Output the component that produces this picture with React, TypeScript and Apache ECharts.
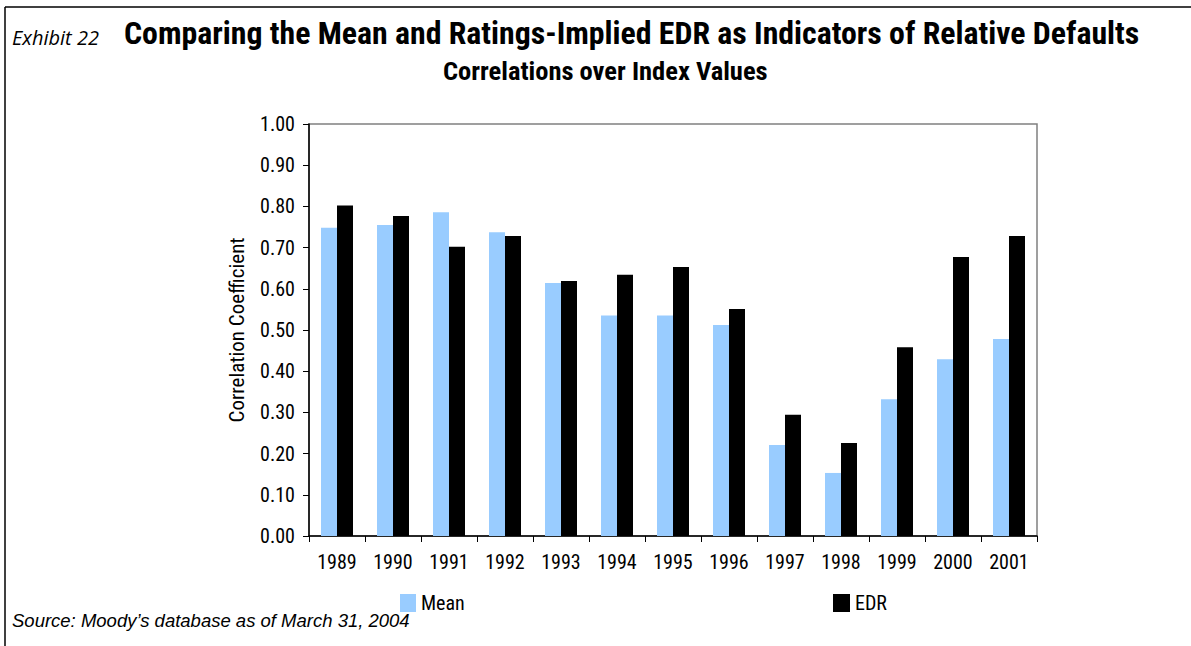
import React, { useEffect, useRef } from "react";
import * as echarts from "echarts";

const years = ["1989", "1990", "1991", "1992", "1993", "1994", "1995", "1996", "1997", "1998", "1999", "2000", "2001"];
const meanValues = [0.748, 0.755, 0.786, 0.737, 0.614, 0.535, 0.535, 0.512, 0.221, 0.153, 0.332, 0.429, 0.478];
const edrValues = [0.802, 0.777, 0.702, 0.728, 0.619, 0.634, 0.653, 0.551, 0.294, 0.226, 0.458, 0.677, 0.728];
const yTicks = [0, 0.1, 0.2, 0.3, 0.4, 0.5, 0.6, 0.7, 0.8, 0.9, 1.0];

const NARROW = '"Liberation Sans Narrow", "Roboto Condensed", "Arial Narrow", "Liberation Sans", sans-serif';

export default function App() {
  const ref = useRef<HTMLDivElement>(null);
  useEffect(() => {
    if (!ref.current) return;
    const chart = echarts.init(ref.current, null, { renderer: "svg" });
    chart.setOption({
      animation: false,
      backgroundColor: "#ffffff",
      grid: { left: 309, top: 124, right: 154, bottom: 110, show: true, borderColor: "#808080", borderWidth: 1.5, backgroundColor: "transparent" },
      legend: [
        {
          data: ["Mean"], left: 400, top: 593, padding: 0, itemWidth: 16, itemHeight: 18, itemGap: 0,
          textStyle: { fontFamily: NARROW, fontSize: 20, color: "#000" },
          icon: "rect",
        },
        {
          data: ["EDR"], left: 833, top: 593, padding: 0, itemWidth: 17, itemHeight: 18, itemGap: 0,
          textStyle: { fontFamily: NARROW, fontSize: 20, color: "#000" },
          icon: "rect",
        },
      ],
      xAxis: {
        type: "category",
        data: years,
        axisLine: { lineStyle: { color: "#000", width: 1.5 } },
        axisTick: { show: true, length: 6, alignWithLabel: false, lineStyle: { color: "#000" } },
        axisLabel: { fontFamily: NARROW, fontSize: 20, color: "#000", margin: 16 },
      },
      yAxis: {
        type: "value",
        min: 0, max: 1, interval: 0.1,
        name: "Correlation Coefficient",
        nameLocation: "middle",
        nameGap: 62,
        nameRotate: 90,
        nameTextStyle: { fontFamily: NARROW, fontSize: 21, color: "#000" },
        axisLine: { show: true, lineStyle: { color: "#000", width: 1.5 } },
        axisTick: { show: true, length: 6, lineStyle: { color: "#000" } },
        splitLine: { show: false },
        axisLabel: {
          fontFamily: NARROW, fontSize: 20, color: "#000", margin: 14,
          formatter: (v: number) => {
            const t = yTicks.find((x) => Math.abs(x - v) < 1e-6);
            return (t !== undefined ? t : v).toFixed(2);
          },
        },
      },
      series: [
        { name: "Mean", type: "bar", data: meanValues, barWidth: 16, barGap: "0%", itemStyle: { color: "#99ccff" } },
        { name: "EDR", type: "bar", data: edrValues, barWidth: 16, barGap: "0%", itemStyle: { color: "#000000" } },
      ],
      graphic: [
        { type: "line", shape: { x1: 5, y1: 7, x2: 1191, y2: 7 }, style: { stroke: "#000", lineWidth: 1.5 } },
        { type: "line", shape: { x1: 5, y1: 7, x2: 5, y2: 646 }, style: { stroke: "#000", lineWidth: 1.5 } },
        {
          type: "text", left: 12, top: 27,
          style: { text: "Exhibit 22", fontFamily: '"Open Sans", Lato, sans-serif', fontStyle: "italic", fontSize: 20, fill: "#000" },
        },
        {
          type: "text", left: 124, top: 17,
          style: { text: "Comparing the Mean and Ratings-Implied EDR as Indicators of Relative Defaults", fontFamily: NARROW, fontWeight: "bold", fontSize: 31.8, fill: "#000" },
        },
        {
          type: "text", left: 443, top: 57,
          style: { text: "Correlations over Index Values", fontFamily: NARROW, fontWeight: "bold", fontSize: 26.5, fill: "#000" },
        },
        {
          type: "text", left: 12, top: 611,
          style: { text: "Source: Moody\u2019s database as of March 31, 2004", fontFamily: '"Liberation Sans", Arial, sans-serif', fontStyle: "italic", fontSize: 18.5, fill: "#000" },
        },
      ],
    });
    return () => chart.dispose();
  }, []);
  return <div ref={ref} style={{ position: "absolute", left: 0, top: 0, width: 1191, height: 646 }} />;
}
